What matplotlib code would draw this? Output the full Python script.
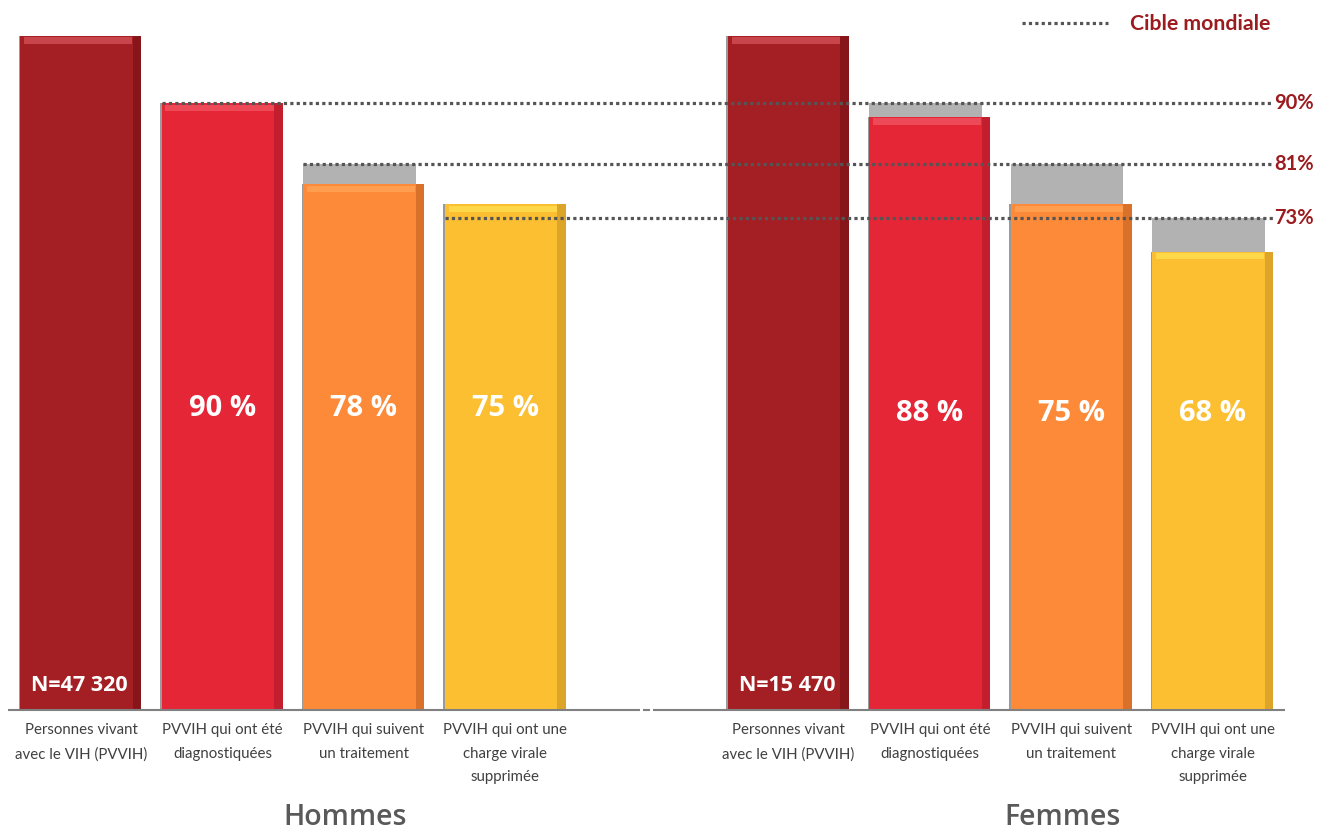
import matplotlib
matplotlib.use("Agg")
import matplotlib.pyplot as plt
from matplotlib.patches import Rectangle

# ---- data -------------------------------------------------------------
categories = [
    "Personnes vivant\navec le VIH (PVVIH)",
    "PVVIH qui ont été\ndiagnostiquées",
    "PVVIH qui suivent\nun traitement",
    "PVVIH qui ont une\ncharge virale\nsupprimée",
]
groups = ["Hommes", "Femmes"]
hommes_values = [100, 90, 78, 75]
femmes_values = [100, 88, 75, 68]
effectifs = ["N=47 320", "N=15 470"]
targets = [None, 90, 81, 73]
target_labels = ["90%", "81%", "73%"]
legend_label = "Cible mondiale"

# ---- styling ----------------------------------------------------------
main_colors = ["#A41F24", "#E52637", "#FD8A38", "#FCBF31"]
edge_colors = ["#86161A", "#C21E2D", "#D9712B", "#DDA42A"]
top_colors = ["#C8454B", "#EE4957", "#FF9E4E", "#FFD84A"]
grey = "#B2B2B2"
dark_red = "#9B1B1F"
dot_color = "#555555"
text_grey = "#404040"

BAR_W = 0.855
EDGE_W = 0.06
GROUP_START = [0, 5]

fig = plt.figure(figsize=(13.17, 8.33), dpi=100)
ax = fig.add_axes([0, 0, 1, 1])
ax.set_xlim(-0.572, 8.735)
ax.set_ylim(-18.25, 105.34)
ax.axis("off")


def draw_bar(x, value, i):
    left = x - BAR_W / 2
    ax.add_patch(Rectangle((left - 0.012, 0), 0.02, value, color="#9A9A9A",
                           lw=0, zorder=2))
    ax.add_patch(Rectangle((left, 0), BAR_W, value, color=main_colors[i],
                           lw=0, zorder=3))
    ax.add_patch(Rectangle((left + BAR_W - EDGE_W, 0), EDGE_W, value,
                           color=edge_colors[i], lw=0, zorder=4))
    ax.add_patch(Rectangle((left + 0.025, value - 1.15),
                           BAR_W - EDGE_W - 0.03, 0.95,
                           color=top_colors[i], lw=0, zorder=4))


all_values = [hommes_values, femmes_values]
for g, vals in enumerate(all_values):
    x0 = GROUP_START[g]
    for i, v in enumerate(vals):
        x = x0 + i
        draw_bar(x, v, i)
        # shortfall against the global target
        if targets[i] is not None and targets[i] > v:
            ax.add_patch(Rectangle((x - BAR_W / 2, v), BAR_W - EDGE_W,
                                   targets[i] - v, color=grey, lw=0,
                                   zorder=2.5))
        if i == 0:
            ax.text(x - 0.01, 3.6, effectifs[g], color="white", fontsize=15.5,
                    fontweight="bold", ha="center", va="center",
                    family="Open Sans", zorder=6)
        else:
            ax.text(x, 44.8 if g == 0 else 44.0, f"{v} %", color="white",
                    fontsize=21, fontweight="bold", ha="center",
                    va="center", family="Open Sans", zorder=6)
        ax.text(x, -2.0, categories[i], color=text_grey, fontsize=10.8,
                ha="center", va="top", linespacing=1.85, family="Lato")

# global target lines
x_end = GROUP_START[1] + 3 + BAR_W / 2
for i, t in enumerate(targets):
    if t is None:
        continue
    ax.plot([i - BAR_W / 2, x_end], [t, t], color=dot_color, lw=2.3,
            ls=(0, (1, 1)), dash_capstyle="butt", zorder=5)
    ax.text(x_end + 0.005, t, target_labels[i - 1], color=dark_red,
            fontsize=14.5, fontweight="bold", ha="left", va="center",
            family="Lato")

# legend
ax.plot([6.65, 7.26], [101.9, 101.9], color=dot_color, lw=2.3,
        ls=(0, (1, 1)), dash_capstyle="butt")
ax.text(7.41, 101.8, legend_label, color=dark_red, fontsize=15.3,
        fontweight="bold", ha="left", va="center", family="Lato")

# baseline with a break between the two groups
axis_col = "#808080"
for x_a, x_b in [(-0.516, 3.95), (3.975, 4.02), (4.045, 4.09), (4.09, 8.51)]:
    ax.plot([x_a, x_b], [0, 0], color=axis_col, lw=1.5, zorder=5,
            solid_capstyle="butt")

# group titles
ax.text(1.87, -16.0, groups[0], color="#595959", fontsize=20.5,
        fontweight="semibold", ha="center", va="center", family="Open Sans")
ax.text(6.94, -16.0, groups[1], color="#595959", fontsize=20.5,
        fontweight="semibold", ha="center", va="center", family="Open Sans")

fig.savefig("out.png", dpi=100, facecolor="white")
